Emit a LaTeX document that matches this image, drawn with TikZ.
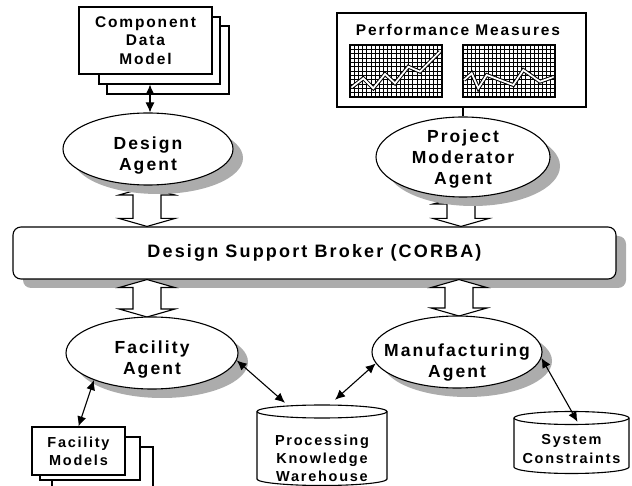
\documentclass[tikz,border=0pt]{standalone}
\usepackage{fontspec}
\usetikzlibrary{shapes.geometric,shadows,arrows.meta,calc}
\newfontfamily\lblfont{Liberation Sans}[LetterSpace=12]

% wide double-headed hollow arrow, from the upper anchor #1 down to the level of #2
\newcommand\hollowarrow[2]{%
  \draw[hollow] let \p1=#1, \p2=#2 in
    (\x1,\y1) -- (\x1+28pt,\y1-8pt) -- (\x1+14pt,\y1-8pt) -- (\x1+14pt,\y2+8pt)
    -- (\x1+28pt,\y2+8pt) -- (\x1,\y2) -- (\x1-28pt,\y2+8pt) -- (\x1-14pt,\y2+8pt)
    -- (\x1-14pt,\y1-8pt) -- (\x1-28pt,\y1-8pt) -- cycle;}

% upright data-store drum: centre x, top-rim y, bottom-rim y, half width
\newcommand\drum[4]{%
  \draw[line width=1.1pt,fill=white] (#1-#4,#2) -- (#1-#4,#3)
    arc[start angle=180,end angle=0,x radius=#4,y radius=6.5] -- (#1+#4,#2)
    arc[start angle=0,end angle=-180,x radius=#4,y radius=6.5] -- cycle;
  \draw[line width=1.1pt] (#1-#4,#2) arc[start angle=180,end angle=0,x radius=#4,y radius=6.5];}

\tikzset{
  boxfont/.style={font=\lblfont\bfseries\fontsize{15.5}{18.5}\selectfont},
  storefont/.style={font=\lblfont\bfseries\fontsize{14.5}{18.3}\selectfont},
  agentfont/.style={font=\lblfont\bfseries\fontsize{17.5}{21}\selectfont},
  shade/.style={drop shadow={shadow xshift=10pt,shadow yshift=-9pt,fill=gray!65,opacity=1}},
  agent/.style={ellipse,draw,line width=1.1pt,fill=white,inner sep=0pt,shade},
  agenttext/.style={agentfont,align=center,inner sep=0pt,text depth=0pt},
  paper/.style={rectangle,draw,line width=1.1pt,fill=white,inner sep=0pt,boxfont,align=center},
  hollow/.style={draw,line width=1.1pt,fill=white,line join=miter},
  link/.style={line width=1.1pt,{Latex[length=10pt,width=9pt]}-{Latex[length=10pt,width=9pt]}},
  gridln/.style={line width=0.75pt},
  trend/.style={line width=3.8pt,line join=miter},
  trendfill/.style={line width=1.8pt,white,line join=miter}
}

\begin{document}
\begin{tikzpicture}[x=1pt,y=-1pt]
\useasboundingbox (0,0) rectangle (632,486);

% broker bus
\node[draw,rounded corners=8pt,line width=1.1pt,fill=white,shade,minimum width=603pt,minimum height=52pt,
  inner sep=0pt,font=\lblfont\bfseries\fontsize{18}{21}\selectfont] (broker) at (314.5,253)
  {Design Support Broker (CORBA)};

% component data model (stacked sheets)
\node[paper,minimum width=122pt,minimum height=68pt] (cdm3) at (168,60) {};
\node[paper,minimum width=121pt,minimum height=67pt] (cdm2) at (159.5,50.5) {};
\node[paper,minimum width=133pt,minimum height=67pt,text depth=0pt] (cdm) at (145.5,40.5)
  {Component\\Data\\Model};

% facility models (stacked sheets)
\node[paper,minimum width=101pt,minimum height=53pt] (fm3) at (102.5,473.5) {};
\node[paper,minimum width=100pt,minimum height=43pt] (fm2) at (90,458.5) {};
\node[paper,storefont,minimum width=93pt,minimum height=48pt] (fm) at (78.5,451) {Facility\\Models};

% performance measures panel
\node[paper,minimum width=249pt,minimum height=94pt] (perf) at (461.5,60) {};
\node[boxfont,inner sep=0pt] (perftitle) at (458,30) {Performance Measures};

% two small charts
\foreach \cx in {350,463} {
  \fill[white] (\cx,45) rectangle ++(92,52);
  \foreach \i in {1,...,21} \draw[gridln] ({\cx+\i*92/22},45) -- ++(0,52);
  \foreach \j in {1,...,11} \draw[gridln] (\cx,{45+\j*52/12}) -- ++(92,0);
  \draw[line width=1.8pt] (\cx,45) rectangle ++(92,52);
}
\draw[trend] (351.7,87.3) -- (363.3,78.3) -- (373.3,88.3) -- (385,74) -- (395,83.3)
  -- (408.3,66.7) -- (420,71.7) -- (440,51.7);
\draw[trendfill] (351.7,87.3) -- (363.3,78.3) -- (373.3,88.3) -- (385,74) -- (395,83.3)
  -- (408.3,66.7) -- (420,71.7) -- (440,51.7);
\draw[trend] (464,80) -- (471.7,73.3) -- (478.3,88.3) -- (486.7,75) -- (513.3,85)
  -- (523.3,70) -- (540,81.7) -- (553.3,77);
\draw[trendfill] (464,80) -- (471.7,73.3) -- (478.3,88.3) -- (486.7,75) -- (513.3,85)
  -- (523.3,70) -- (540,81.7) -- (553.3,77);

% data stores
\drum{322}{411.5}{479}{65}
\node[inner sep=0pt,minimum width=130pt,minimum height=80pt] (pkw) at (322,445) {};
\node[storefont,align=center,inner sep=0pt] (pkwtext) at (322,458.5)
  {Processing\\Knowledge\\Warehouse};
\drum{571.5}{418}{467}{57.5}
\node[inner sep=0pt,minimum width=115pt,minimum height=62pt] (sc) at (571.5,442) {};
\node[storefont,align=center,inner sep=0pt] (sctext) at (571.5,449)
  {System\\Constraints};

% agents, with broker arrows drawn underneath
\coordinate (fatop) at (147,317);
\coordinate (matop) at (459,316);
\coordinate (dabot) at (147,187);
\coordinate (pmbot) at (461,196);
\hollowarrow{(dabot)}{(broker.north)}
\hollowarrow{(pmbot)}{(broker.north)}
\hollowarrow{(broker.south -| fatop)}{(fatop)}
\hollowarrow{(broker.south -| matop)}{(matop)}

\node[agent,minimum width=170pt,minimum height=72pt] (da) at (148,149) {};
\node[agenttext] (datext) at (148,153.5) {Design\\Agent};
\node[agent,minimum width=174pt,minimum height=80pt] (pm) at (463,157) {};
\node[agenttext] (pmtext) at (463,157.5) {Project\\Moderator\\Agent};
\node[agent,minimum width=172pt,minimum height=72pt] (fa) at (152,353) {};
\node[agenttext] (fatext) at (152,357.5) {Facility\\Agent};
\node[agent,minimum width=170pt,minimum height=72pt] (ma) at (457,352) {};
\node[agenttext] (matext) at (457,360.5) {Manufacturing\\Agent};

% connectors
\draw[link] (da.north -| 150,0) -- (cdm2.south -| 150,0);
\draw[line width=1.1pt] (pm.north) -- (pm.north |- perf.south);
\draw[link] (fa.205) -- (fm.north);
\draw[link] (fa.-5) -- ($(pkw.north)+(-37,-2)$);
\draw[link] (ma.188) -- ($(pkw.north)+(13,-5)$);
\draw[link] (ma.-4) -- ($(sc.north)+(6,11)$);
\end{tikzpicture}
\end{document}
